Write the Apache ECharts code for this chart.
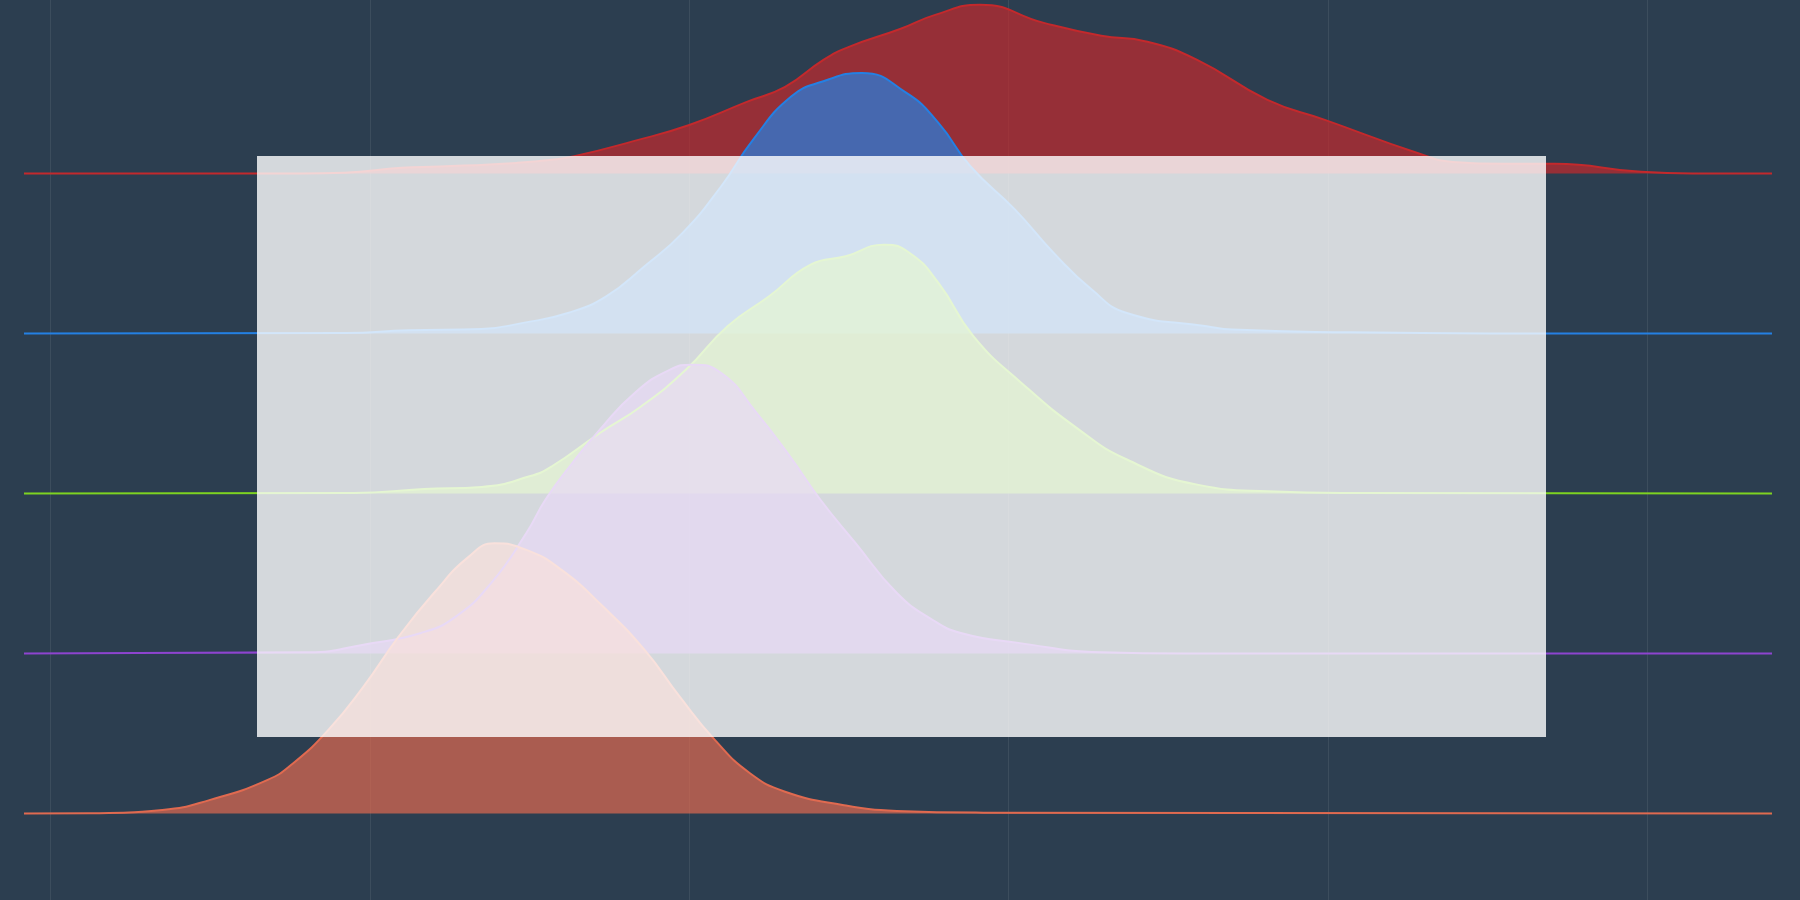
<!DOCTYPE html>
<html>
<head>
<meta charset="utf-8">
<title>Ridgeline</title>
<script src="https://cdn.jsdelivr.net/npm/echarts@6/dist/echarts.min.js"></script>
<style>
	html, body { margin: 0; padding: 0; background: #2c3e50; }
	#mainChart { width: 1800px; height: 900px; }
</style>
</head>
<body>
<div id="mainChart"></div>
<script>
// ridges, top to bottom (x value, height above own baseline)
var ridgeNames = ['Ridge 1', 'Ridge 2', 'Ridge 3', 'Ridge 4', 'Ridge 5'];
var ridgeBase = [4, 3, 2, 1, 0];

var ridge1X = [-0.83, 7.8, 9.2, 11.0, 12.2, 14.6, 15.7, 16.4, 18.2, 20.0, 21.8, 23.0, 24.2, 25.0, 26.6, 27.7, 29.1, 31.1, 32.9, 34.3, 35.9, 38.1, 39.9, 42.8, 43.9, 45.5, 47.1, 49.8, 51.6, 53.9];
var ridge1Y = [0, 0.001, 0.006, 0.036, 0.044, 0.067, 0.086, 0.108, 0.2, 0.304, 0.448, 0.542, 0.711, 0.792, 0.904, 0.992, 1.056, 0.942, 0.861, 0.826, 0.711, 0.461, 0.336, 0.129, 0.073, 0.061, 0.061, 0.011, 0.001, 0];

var ridge2X = [-0.83, 9.25, 11.2, 13.5, 14.8, 16.2, 17.4, 18.6, 19.8, 21.0, 22.0, 23.2, 24.2, 25.4, 26.8, 27.8, 28.8, 30.2, 31.4, 32.6, 33.7, 36.2, 37.0, 40.7, 45.4, 53.9];
var ridge2Y = [0, 0.004, 0.021, 0.029, 0.067, 0.129, 0.233, 0.421, 0.631, 0.921, 1.213, 1.483, 1.577, 1.629, 1.504, 1.317, 1.046, 0.775, 0.506, 0.275, 0.129, 0.046, 0.025, 0.008, 0.001, 0];

var ridge3X = [-0.83, 9.5, 11.7, 13.5, 15.0, 15.7, 17.2, 18.5, 19.9, 21.2, 22.5, 23.8, 24.9, 26.1, 26.9, 27.8, 28.9, 30.4, 32.2, 33.7, 35.9, 38.1, 40.7, 53.9];
var ridge3Y = [0, 0.004, 0.029, 0.042, 0.108, 0.171, 0.379, 0.546, 0.775, 1.046, 1.233, 1.431, 1.483, 1.556, 1.504, 1.317, 0.983, 0.692, 0.4, 0.213, 0.056, 0.014, 0.004, 0];

var ridge4X = [-0.83, 8.1, 9.8, 11.6, 12.7, 13.8, 14.9, 15.5, 16.35, 17.2, 18.3, 19.4, 20.1, 21.0, 22.1, 23.15, 24.1, 25.2, 26.5, 27.6, 28.5, 30.3, 32.9, 35.5, 53.9];
var ridge4Y = [0, 0.008, 0.056, 0.129, 0.233, 0.442, 0.754, 0.963, 1.194, 1.4, 1.631, 1.775, 1.806, 1.754, 1.506, 1.233, 0.963, 0.692, 0.379, 0.213, 0.129, 0.067, 0.008, 0, 0];

var ridge5X = [-0.83, 1.2, 3.5, 5.0, 6.8, 7.6, 8.7, 9.8, 10.9, 12.0, 13.1, 13.9, 14.9, 16.0, 17.3, 18.6, 19.7, 20.8, 21.9, 23.0, 24.8, 26.5, 29.2, 53.9];
var ridge5Y = [0, 0.002, 0.023, 0.086, 0.211, 0.315, 0.523, 0.794, 1.106, 1.377, 1.606, 1.689, 1.648, 1.523, 1.294, 1.023, 0.731, 0.461, 0.252, 0.137, 0.054, 0.017, 0.006, 0];

var ridgeColors = ['#c3292c', '#2480e3', '#7ed321', '#8e44d0', '#e06a50'];

var myChart = echarts.init(document.getElementById('mainChart'));

function toPoints(xs, ys, base) {
	var pts = [];
	for (var i = 0; i < xs.length; i++) {
		pts.push([xs[i], base + ys[i]]);
	}
	return pts;
}

var allX = [ridge1X, ridge2X, ridge3X, ridge4X, ridge5X];
var allY = [ridge1Y, ridge2Y, ridge3Y, ridge4Y, ridge5Y];
var series = [];
for (var i = 0; i < ridgeNames.length; i++) {
	series.push({
		name : ridgeNames[i],
		type : 'line',
		smooth : 0.5,
		showSymbol : false,
		data : toPoints(allX[i], allY[i], ridgeBase[i]),
		lineStyle : { color : ridgeColors[i], width : 2 },
		itemStyle : { color : ridgeColors[i] },
		areaStyle : { color : ridgeColors[i], opacity : 0.7, origin : ridgeBase[i] }
	});
}

option = {
	backgroundColor : '#2c3e50',
	animation : false,
	grid : { left : 24, right : 28, top : 0, bottom : 0 },
	xAxis : {
		type : 'value',
		min : -0.83,
		max : 53.9,
		axisLine : { show : false },
		axisTick : { show : false },
		axisLabel : { show : false },
		splitLine : {
			show : true,
			showMinLine : false,
			showMaxLine : false,
			lineStyle : { color : 'rgba(255,255,255,0.08)', width : 1 }
		}
	},
	yAxis : {
		type : 'value',
		min : -0.54,
		max : 5.085,
		show : false,
		splitLine : { show : false }
	},
	graphic : [ {
		type : 'rect',
		z : 100,
		shape : { x : 257, y : 156, width : 1289, height : 581 },
		style : { fill : 'rgba(255,255,255,0.8)' }
	} ],
	series : series
};
myChart.setOption(option, true);
</script>
</body>
</html>
